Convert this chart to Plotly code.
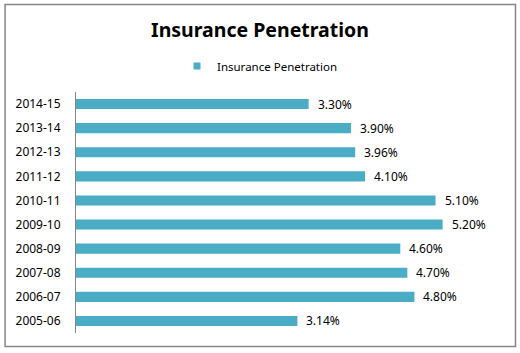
import plotly.graph_objects as go

years = ["2005-06", "2006-07", "2007-08", "2008-09", "2009-10",
         "2010-11", "2011-12", "2012-13", "2013-14", "2014-15"]
penetration = [3.14, 4.80, 4.70, 4.60, 5.20, 5.10, 4.10, 3.96, 3.90, 3.30]

W, H = 520, 353
ml, mr, mt, mb = 75.5, 21, 92, 20
pw, ph = W - ml - mr, H - mt - mb

font = "Noto Sans, Open Sans, sans-serif"
color = "#4BACC6"

fig = go.Figure()
fig.add_trace(go.Bar(
    y=years, x=penetration, orientation="h",
    name="Insurance Penetration", showlegend=False,
    marker=dict(color=color, line=dict(width=0)),
))
fig.add_trace(go.Scatter(
    x=[None], y=[None], mode="markers", name="Insurance Penetration",
    marker=dict(symbol="square", size=7, color=color),
))

annotations = [
    dict(x=v, y=c, xref="x", yref="y", text=f"{v:.2f}%", showarrow=False,
         xanchor="left", yanchor="middle", xshift=7,
         font=dict(family=font, size=12, color="#000000"))
    for c, v in zip(years, penetration)
]

def px_x(v):
    return (v - ml) / pw

def px_y(v):
    return 1 - (v - mt) / ph

fig.update_layout(
    width=W, height=H,
    margin=dict(l=ml, r=mr, t=mt, b=mb, autoexpand=False),
    paper_bgcolor="white", plot_bgcolor="white",
    bargap=0.58,
    title=dict(text="<b>Insurance Penetration</b>", x=0.5, xanchor="center",
               y=1 - 30 / H, yanchor="middle",
               font=dict(family=font, size=19.5, color="#000000")),
    showlegend=True,
    legend=dict(orientation="h", x=0.5, xanchor="center", xref="container",
                y=1 - 66 / H, yref="container", yanchor="middle",
                font=dict(family=font, size=11.5, color="#000000"),
                itemwidth=30),
    xaxis=dict(range=[0, 6], visible=False, fixedrange=True),
    yaxis=dict(type="category", categoryorder="array", categoryarray=years,
               showline=True, linecolor="#868686", linewidth=1,
               ticks="", ticklabelstandoff=12, showgrid=False,
               tickfont=dict(family=font, size=12, color="#000000")),
    annotations=annotations,
    shapes=[dict(type="rect", xref="paper", yref="paper",
                 x0=px_x(4.5), x1=px_x(515.5), y0=px_y(346.5), y1=px_y(4.5),
                 line=dict(color="#868686", width=1.5), fillcolor="rgba(0,0,0,0)",
                 layer="below")],
)

fig.write_html("out.html")
